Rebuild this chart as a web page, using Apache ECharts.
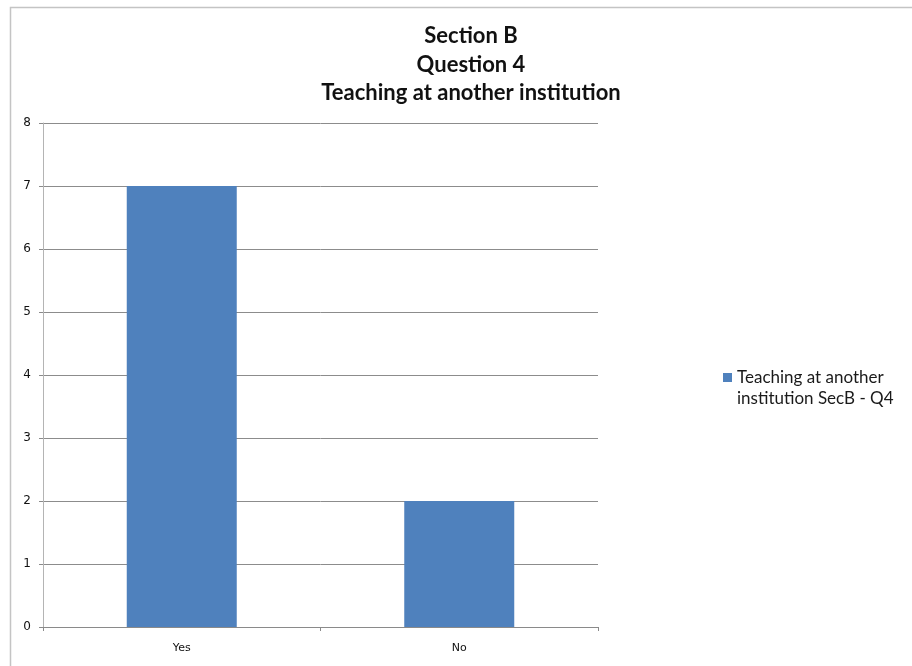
<!DOCTYPE html>
<html>
<head>
<meta charset="utf-8">
<script src="https://cdn.jsdelivr.net/npm/echarts@6/dist/echarts.min.js"></script>
<style>
  html, body { margin: 0; padding: 0; background: #fff; }
  #chart { width: 912px; height: 666px; }
</style>
</head>
<body>
<div id="chart"></div>
<script>
// Survey answers for Section B, Question 4
const categories = ['Yes', 'No'];
const responses = [7, 2];
const seriesName = 'Teaching at another institution SecB - Q4';
const titleLines = ['Section B', 'Question 4', 'Teaching at another institution'];

const chart = echarts.init(document.getElementById('chart'), null, { renderer: 'canvas' });

chart.setOption({
  animation: false,
  backgroundColor: '#ffffff',
  graphic: [{
    type: 'rect',
    shape: { x: 10.5, y: 7.5, width: 1000, height: 1000 },
    style: { fill: 'none', stroke: '#c4c4c4', lineWidth: 1.5 },
    silent: true
  }],
  title: {
    text: titleLines.join('\n'),
    left: 466,
    textAlign: 'center',
    top: 17,
    textStyle: {
      fontFamily: 'Lato',
      fontWeight: 'bold',
      fontSize: 22,
      lineHeight: 28.5,
      color: '#111'
    }
  },
  legend: {
    left: 723,
    top: 346,
    padding: 0,
    itemWidth: 9,
    itemHeight: 9,
    icon: 'rect',
    // leading blank line keeps the swatch level with the first text line
    formatter: () => '\nTeaching at another\ninstitution SecB - Q4',
    textStyle: {
      fontFamily: 'Lato',
      fontSize: 17,
      lineHeight: 21,
      color: '#1a1a1a'
    }
  },
  grid: {
    left: 43,
    right: 912 - 598,
    top: 123,
    bottom: 666 - 627,
    containLabel: false
  },
  xAxis: {
    type: 'category',
    data: categories,
    axisLine: { lineStyle: { color: '#8a8a8a', width: 1 } },
    axisTick: { show: true, length: 4, lineStyle: { color: '#8a8a8a' } },
    axisLabel: {
      fontFamily: 'DejaVu Sans',
      fontSize: 11,
      color: '#111',
      margin: 16
    }
  },
  yAxis: {
    type: 'value',
    min: 0,
    max: 8,
    interval: 1,
    axisLine: { show: true, lineStyle: { color: '#b4b4b4', width: 1 } },
    axisTick: { show: true, length: 4, lineStyle: { color: '#8a8a8a' } },
    splitLine: { show: true, lineStyle: { color: '#8c8c8c', width: 1 } },
    axisLabel: {
      fontFamily: 'DejaVu Sans',
      fontSize: 12,
      color: '#111',
      margin: 12
    }
  },
  series: [{
    name: seriesName,
    type: 'bar',
    data: responses,
    barWidth: 110,
    itemStyle: { color: '#4f81bd' }
  }]
});
</script>
</body>
</html>
